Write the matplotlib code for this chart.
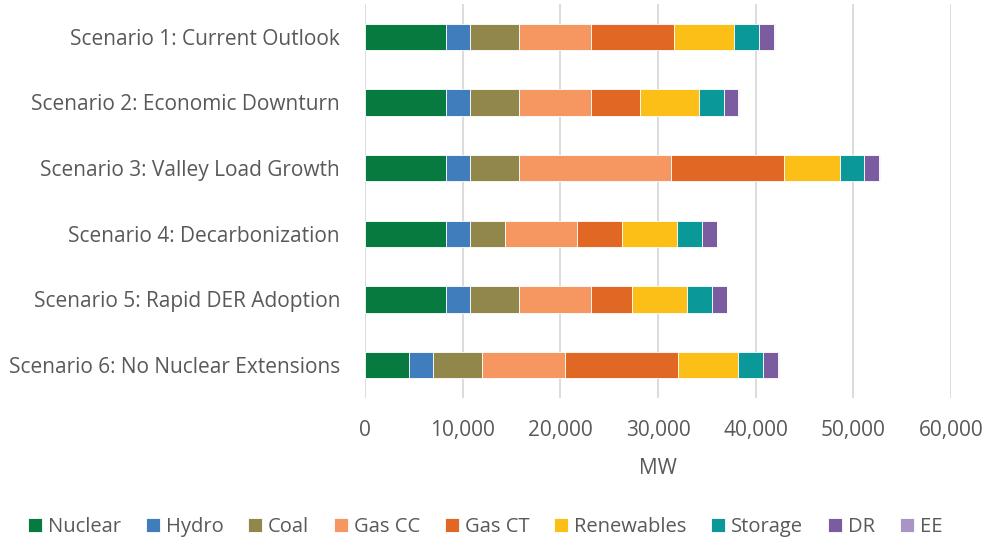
import matplotlib
matplotlib.use("Agg")
import matplotlib.pyplot as plt
from matplotlib.ticker import FuncFormatter

scenarios = ["Scenario 1: Current Outlook", "Scenario 2: Economic Downturn",
             "Scenario 3: Valley Load Growth", "Scenario 4: Decarbonization",
             "Scenario 5: Rapid DER Adoption", "Scenario 6: No Nuclear Extensions"]
resources = ["Nuclear", "Hydro", "Coal", "Gas CC", "Gas CT", "Renewables", "Storage", "DR", "EE"]

nuclear    = [8300, 8300, 8300, 8300, 8300, 4500]
hydro      = [2450, 2450, 2450, 2450, 2450, 2450]
coal       = [5000, 5000, 5000, 3600, 5000, 5000]
gas_cc     = [7350, 7350, 15600, 7400, 7350, 8550]
gas_ct     = [8500, 5050, 11600, 4580, 4220, 11560]
renewables = [6150, 6000, 5650, 5620, 5700, 6120]
storage    = [2580, 2580, 2540, 2540, 2500, 2580]
dr         = [1540, 1500, 1520, 1530, 1530, 1530]
ee         = [100, 60, 100, 60, 60, 100]

colors = ["#077B3F", "#3F7DBD", "#91874A", "#F69762", "#E16724",
          "#FCBF17", "#0A9898", "#7C5CA0", "#A895C6"]

series = [nuclear, hydro, coal, gas_cc, gas_ct, renewables, storage, dr, ee]

plt.rcParams['font.family'] = ['Open Sans', 'DejaVu Sans']
text_color = "#595959"

fig = plt.figure(figsize=(9.9, 5.42), dpi=100)
ax = fig.add_axes([365/990, 1-398/542, (951-365)/990, (398-4)/542])

ypos = list(range(len(scenarios)))
left = [0]*len(scenarios)
for name, vals, c in zip(resources, series, colors):
    ax.barh(ypos, vals, left=left, height=0.4, color=c, label=name,
            edgecolor="white", linewidth=0.6, zorder=3)
    left = [l + v for l, v in zip(left, vals)]

ax.set_xlim(0, 60000)
ax.set_ylim(len(scenarios)-0.5, -0.5)
ax.set_xticks(range(0, 60001, 10000))
ax.xaxis.set_major_formatter(FuncFormatter(lambda v, p: f"{int(v):,}"))
ax.set_yticks(ypos)
ax.set_yticklabels(scenarios)
ax.grid(axis="x", color="#D9D9D9", linewidth=1.3, zorder=0)
for s in ax.spines.values():
    s.set_visible(False)
ax.tick_params(axis="both", length=0, labelsize=15, labelcolor=text_color)
ax.tick_params(axis="x", pad=16)
ax.tick_params(axis="y", pad=18)
ax.set_xlabel("MW", fontsize=15, color=text_color, labelpad=12)

fig.legend(loc="center", bbox_to_anchor=(0.49, 1-527/542), ncol=9, frameon=False,
           fontsize=14.5, labelcolor=text_color, handlelength=0.7, handleheight=0.7,
           handletextpad=0.3, columnspacing=1.22)

fig.savefig("out.png", dpi=100)
